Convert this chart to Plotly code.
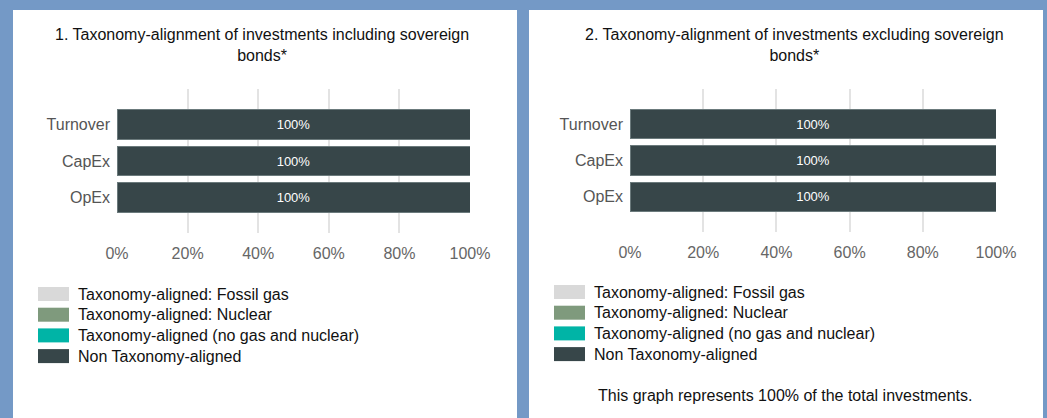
import plotly.graph_objects as go

# ---- data ----
categories = ["Turnover", "CapEx", "OpEx"]
series_names = [
    "Taxonomy-aligned: Fossil gas",
    "Taxonomy-aligned: Nuclear",
    "Taxonomy-aligned (no gas and nuclear)",
    "Non Taxonomy-aligned",
]
series_colors = ["#d9d9d9", "#7f9a7d", "#00b4a6", "#374649"]
incl_fossil = [0, 0, 0]
incl_nuclear = [0, 0, 0]
incl_aligned = [0, 0, 0]
incl_non = [100, 100, 100]
excl_fossil = [0, 0, 0]
excl_nuclear = [0, 0, 0]
excl_aligned = [0, 0, 0]
excl_non = [100, 100, 100]
tick_vals = [0, 20, 40, 60, 80, 100]
tick_text = ["0%", "20%", "40%", "60%", "80%", "100%"]
titles = [
    "1. Taxonomy-alignment of investments including sovereign<br>bonds*",
    "2. Taxonomy-alignment of investments excluding sovereign<br>bonds*",
]
footer = "This graph represents 100% of the total investments."

W, H = 1047, 418
BG = "#7499c6"
FONT = "Liberation Sans, Arial, sans-serif"


def px(x):
    return x / W


def py(y):
    return 1 - y / H


fig = go.Figure()

panels = [
    dict(data=[incl_fossil, incl_nuclear, incl_aligned, incl_non], xa="x", ya="y",
         box=[13, 517], title_x=262, leg_x=38, leg_y=294),
    dict(data=[excl_fossil, excl_nuclear, excl_aligned, excl_non], xa="x2", ya="y2",
         box=[529, 1043], title_x=794, leg_x=554, leg_y=292),
]

shapes = []
annotations = []
for i, p in enumerate(panels):
    for name, color, vals in zip(series_names, series_colors, p["data"]):
        fig.add_trace(go.Bar(
            y=categories, x=vals, name=name, orientation="h",
            marker=dict(color=color, line=dict(color="#6b7a7c", width=1)),
            text=[f"{v:.0f}%" if v > 0 else "" for v in vals],
            textposition="inside", insidetextanchor="middle",
            textfont=dict(color="white", size=13, family=FONT),
            xaxis=p["xa"], yaxis=p["ya"], showlegend=False,
            hovertemplate="%{y}: %{x}%<extra>" + name + "</extra>",
        ))
    # white panel
    shapes.append(dict(type="rect", xref="paper", yref="paper",
                       x0=px(p["box"][0]), x1=px(p["box"][1]), y0=-0.01, y1=py(10),
                       fillcolor="white", line=dict(width=0), layer="below"))
    # title
    annotations.append(dict(text=titles[i], xref="paper", yref="paper",
                            x=px(p["title_x"]), y=py(24), xanchor="center", yanchor="top",
                            showarrow=False, font=dict(size=16, color="#111", family=FONT),
                            align="center"))
    # legend
    for k, (name, color) in enumerate(zip(series_names, series_colors)):
        yc = p["leg_y"] + k * 20.7
        shapes.append(dict(type="rect", xref="paper", yref="paper",
                           x0=px(p["leg_x"]), x1=px(p["leg_x"] + 31),
                           y0=py(yc + 7), y1=py(yc - 7),
                           fillcolor=color, line=dict(width=0)))
        annotations.append(dict(text=name, xref="paper", yref="paper",
                                x=px(p["leg_x"] + 38), y=py(yc), xanchor="left", yanchor="middle",
                                showarrow=False, font=dict(size=16, color="#111", family=FONT)))

annotations.append(dict(text=footer, xref="paper", yref="paper", x=px(785), y=py(395),
                        xanchor="center", yanchor="middle", showarrow=False,
                        font=dict(size=16, color="#111", family=FONT)))

axis_common = dict(range=[0, 100], tickvals=tick_vals, ticktext=tick_text,
                   showgrid=True, gridcolor="#e3e3e3", gridwidth=1.5, zeroline=False,
                   showline=False, ticks="", tickfont=dict(size=16, color="#666", family=FONT),
                   ticklabelstandoff=9, fixedrange=True, automargin=False)
yaxis_common = dict(categoryorder="array", categoryarray=categories[::-1],
                    range=[-0.97, 2.97], showgrid=False, zeroline=False, showline=False,
                    ticks="", tickfont=dict(size=16, color="#555", family=FONT),
                    ticklabelstandoff=6, fixedrange=True, automargin=False)

fig.update_layout(
    width=W, height=H, margin=dict(l=0, r=0, t=0, b=0, pad=0, autoexpand=False),
    paper_bgcolor=BG, plot_bgcolor="rgba(0,0,0,0)",
    barmode="stack", bargap=0.2,
    xaxis=dict(domain=[px(117), px(470)], anchor="y", **axis_common),
    yaxis=dict(domain=[py(233), py(89)], anchor="x", **yaxis_common),
    xaxis2=dict(domain=[px(630), px(996)], anchor="y2", **axis_common),
    yaxis2=dict(domain=[py(232), py(89)], anchor="x2", **yaxis_common),
    shapes=shapes, annotations=annotations,
    font=dict(family=FONT),
)

fig.write_html(
    "out.html",
    config={"displayModeBar": False},
    post_script="document.body.style.margin='0';document.body.style.overflow='hidden';"
                "document.body.style.background='" + BG + "';",
)
